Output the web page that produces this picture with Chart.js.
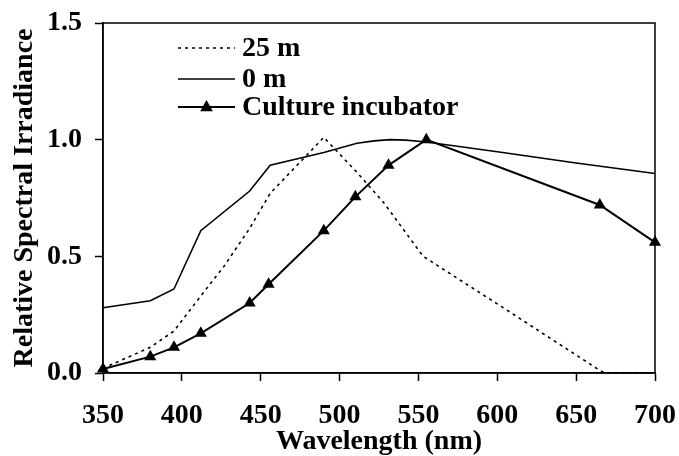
<!DOCTYPE html>
<html>
<head>
<meta charset="utf-8">
<script src="https://cdn.jsdelivr.net/npm/chart.js@4"></script>
<style>
  html, body { margin: 0; padding: 0; background: #ffffff; }
  #wrap { width: 679px; height: 456px; position: relative; }
</style>
</head>
<body>
<div id="wrap"><canvas id="chart"></canvas></div>
<script>
const X_TICKS = [350, 400, 450, 500, 550, 600, 650, 700];
const Y_TICKS = [0, 0.5, 1.0, 1.5];

const DEPTH25_X = [350, 380, 395, 412, 427, 443, 456, 490, 511, 528, 553, 606, 663, 668, 700];
const DEPTH25_Y = [0.02, 0.11, 0.18, 0.33, 0.46, 0.62, 0.77, 1.01, 0.86, 0.73, 0.50, 0.27, 0.02, 0.0, 0.0];

const DEPTH0_X = [350, 380, 395, 412, 443, 456, 490, 511, 522, 532, 542, 555, 600, 650, 700];
const DEPTH0_Y = [0.28, 0.31, 0.36, 0.61, 0.78, 0.89, 0.945, 0.985, 0.995, 1.0, 0.998, 0.99, 0.948, 0.9, 0.855];

const INCUBATOR_X = [350, 380, 395, 412, 443, 455, 490, 510, 531, 555, 665, 700];
const INCUBATOR_Y = [0.017, 0.07, 0.11, 0.17, 0.30, 0.38, 0.61, 0.755, 0.89, 1.0, 0.72, 0.56];

const SERIES_LABELS = ['25 m', '0 m', 'Culture incubator'];

const FONT_FAMILY = "'Liberation Serif', 'Times New Roman', serif";

function toPoints(xs, ys) {
  return xs.map((x, i) => ({ x, y: ys[i] }));
}

// frame round the plot area, plus the legend drawn inside it
const framePlugin = {
  id: 'frame',
  afterDraw(chart) {
    const { ctx, chartArea } = chart;
    ctx.save();
    ctx.strokeStyle = '#000';
    ctx.lineWidth = 1.5;
    ctx.strokeRect(chartArea.left, chartArea.top, chartArea.right - chartArea.left, chartArea.bottom - chartArea.top);

    const x0 = chartArea.left + 75;
    const x1 = chartArea.left + 132;
    const textX = chartArea.left + 139;
    const rows = [25, 56, 84];
    ctx.font = 'bold 28px ' + FONT_FAMILY;
    ctx.textBaseline = 'middle';
    ctx.fillStyle = '#000';
    chart.data.datasets.forEach((ds, i) => {
      const y = chartArea.top + rows[i];
      ctx.beginPath();
      ctx.setLineDash(ds.borderDash || []);
      ctx.lineWidth = ds.borderWidth;
      ctx.moveTo(x0, y);
      ctx.lineTo(x1, y);
      ctx.stroke();
      ctx.setLineDash([]);
      if (ds.pointRadius > 0) {
        const cx = (x0 + x1) / 2;
        const r = ds.pointRadius;
        ctx.beginPath();
        ctx.moveTo(cx, y - r);
        ctx.lineTo(cx + r * 0.9, y + r * 0.6);
        ctx.lineTo(cx - r * 0.9, y + r * 0.6);
        ctx.closePath();
        ctx.fill();
      }
      ctx.fillText(ds.label, textX, y + 1);
    });
    ctx.restore();
  }
};

new Chart(document.getElementById('chart'), {
  type: 'line',
  data: {
    datasets: [
      {
        label: SERIES_LABELS[0],
        data: toPoints(DEPTH25_X, DEPTH25_Y),
        borderColor: '#000',
        borderWidth: 1.6,
        borderDash: [3, 4],
        pointRadius: 0,
        tension: 0,
        clip: false
      },
      {
        label: SERIES_LABELS[1],
        data: toPoints(DEPTH0_X, DEPTH0_Y),
        borderColor: '#000',
        borderWidth: 1.6,
        pointRadius: 0,
        tension: 0,
        clip: false
      },
      {
        label: SERIES_LABELS[2],
        data: toPoints(INCUBATOR_X, INCUBATOR_Y),
        borderColor: '#000',
        backgroundColor: '#000',
        borderWidth: 2,
        pointStyle: 'triangle',
        pointRadius: 7,
        pointBackgroundColor: '#000',
        pointBorderWidth: 0,
        tension: 0,
        clip: false
      }
    ]
  },
  options: {
    responsive: true,
    maintainAspectRatio: false,
    animation: false,
    layout: { padding: { top: 23, right: 24, bottom: 0, left: 0 } },
    plugins: {
      legend: { display: false },
      tooltip: { enabled: false }
    },
    scales: {
      x: {
        type: 'linear',
        min: 350,
        max: 700,
        afterBuildTicks: scale => { scale.ticks = X_TICKS.map(v => ({ value: v })); },
        afterFit: scale => {
          scale.height = 83;
          scale.paddingLeft = 0;
          scale.paddingRight = 0;
        },
        grid: { drawOnChartArea: false, drawTicks: true, tickLength: 8, tickColor: '#000', tickWidth: 1.5 },
        border: { display: true, color: '#000', width: 1.5 },
        ticks: {
          color: '#000',
          padding: 18,
          maxRotation: 0,
          font: { family: FONT_FAMILY, size: 28, weight: 'bold' }
        },
        title: {
          display: true,
          text: 'Wavelength (nm)',
          color: '#000',
          padding: { top: 0, bottom: 0 },
          font: { family: FONT_FAMILY, size: 28, weight: 'bold', lineHeight: 1.0 }
        }
      },
      y: {
        min: 0,
        max: 1.5,
        afterBuildTicks: scale => { scale.ticks = Y_TICKS.map(v => ({ value: v })); },
        afterFit: scale => {
          scale.width = 103;
          scale.paddingTop = 0;
          scale.paddingBottom = 0;
        },
        grid: { drawOnChartArea: false, drawTicks: true, tickLength: 8, tickColor: '#000', tickWidth: 1.5 },
        border: { display: true, color: '#000', width: 1.5 },
        ticks: {
          color: '#000',
          padding: 13,
          callback: v => Number(v).toFixed(1),
          font: { family: FONT_FAMILY, size: 28, weight: 'bold' }
        },
        title: {
          display: true,
          text: 'Relative Spectral Irradiance',
          color: '#000',
          padding: { top: 8, bottom: 0 },
          font: { family: FONT_FAMILY, size: 28, weight: 'bold', lineHeight: 1.2 }
        }
      }
    }
  },
  plugins: [framePlugin]
});
</script>
</body>
</html>
